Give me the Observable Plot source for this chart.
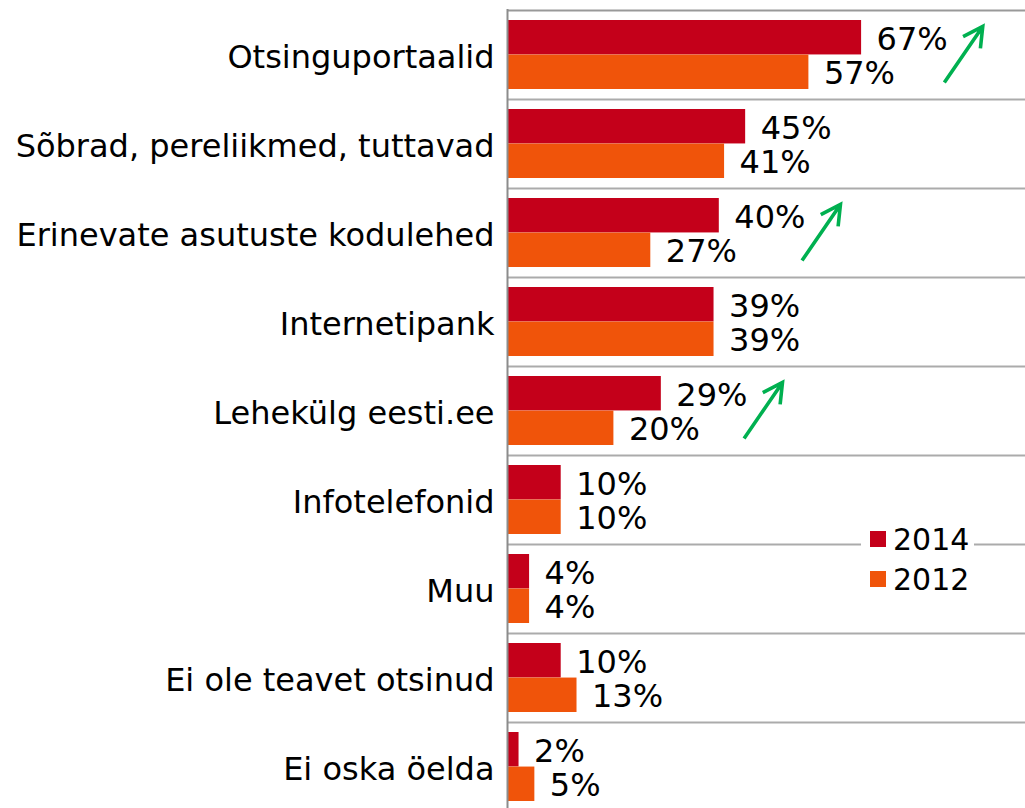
<!DOCTYPE html>
<html><head><meta charset="utf-8">
<script src="https://cdn.jsdelivr.net/npm/d3@7"></script>
<script src="https://cdn.jsdelivr.net/npm/@observablehq/plot@0.6"></script>
<style>
body{margin:0;background:#fff}
#wrap{position:relative;width:1025px;height:808px;overflow:hidden}
#legend{position:absolute;left:861px;top:519px;width:113px;background:#fff;font:30px 'DejaVu Sans',Verdana,sans-serif;color:#000}
#legend .row{display:flex;align-items:center;height:40px;padding-left:9px}
#legend .sw{width:16px;height:16px;margin-right:7px}
</style>
</head><body><div id="wrap"></div>
<script>
const categories = ["Otsinguportaalid","Sõbrad, pereliikmed, tuttavad","Erinevate asutuste kodulehed","Internetipank","Lehekülg eesti.ee","Infotelefonid","Muu","Ei ole teavet otsinud","Ei oska öelda"];
const values2014 = [67,45,40,39,29,10,4,10,2];
const values2012 = [57,41,27,39,20,10,4,13,5];
const increased = [true,false,true,false,true,false,false,false,false];
const years = ["2014","2012"];
const colors = ["#C4001A","#F0540A"];

const rows = categories.map((c,i)=>({cat:c, v2014: values2014[i], v2012: values2012[i], up: increased[i]}));
const H = 808, mTop = 9, mBottom = -3;
const half = (H - mTop - mBottom) / categories.length / 2;

const arrowShape = {
  draw(ctx, l) {
    const back = 19.5, side = 10.5;
    ctx.moveTo(0, 0);
    ctx.lineTo(0, -l);
    ctx.moveTo(-side, back - l);
    ctx.lineTo(0, -l);
    ctx.lineTo(side, back - l);
  }
};

const plot = Plot.plot({
  width: 1025, height: H,
  marginLeft: 508, marginRight: 0, marginTop: mTop, marginBottom: mBottom,
  style: {fontFamily: "'DejaVu Sans', Verdana, sans-serif", fontSize: "32px", background: "white", overflow: "visible"},
  x: {domain: [0, 98.1], axis: null},
  y: {domain: categories, padding: 0, axis: null},
  marks: [
    Plot.ruleY(categories, {y: d => d, dy: half, stroke: "#ababab", strokeWidth: 2}),
    Plot.ruleY([categories[0]], {y: d => d, dy: -half, stroke: "#999", strokeWidth: 2}),
    Plot.barX(rows, {y: "cat", x: "v2014", fill: colors[0], insetTop: 10, insetBottom: half}),
    Plot.barX(rows, {y: "cat", x: "v2012", fill: colors[1], insetTop: half, insetBottom: 10}),
    Plot.ruleX([0], {dx: -1, stroke: "#8c8c8c", strokeWidth: 2}),
    Plot.text(rows, {y: "cat", x: "v2014", text: d => d.v2014 + "%", textAnchor: "start", dx: 15, dy: -15.5}),
    Plot.text(rows, {y: "cat", x: "v2012", text: d => d.v2012 + "%", textAnchor: "start", dx: 15, dy: 19}),
    Plot.text(categories, {y: d => d, text: d => d, frameAnchor: "left", textAnchor: "end", dx: -14, dy: 3}),
    Plot.vector(rows.filter(d => d.up), {x: d => d.v2014 + 15.7, y: "cat", dy: 27.5, length: 68, rotate: 34.4, anchor: "start", shape: arrowShape, stroke: "#00B050", strokeWidth: 3.6, strokeLinecap: "butt", strokeLinejoin: "miter"})
  ]
});
const wrap = document.getElementById("wrap");
wrap.appendChild(plot);
const legend = document.createElement("div");
legend.id = "legend";
legend.innerHTML = years.map((y, i) => `<div class="row"><span class="sw" style="background:${colors[i]}"></span><span>${y}</span></div>`).join("");
wrap.appendChild(legend);
</script>
</body></html>
